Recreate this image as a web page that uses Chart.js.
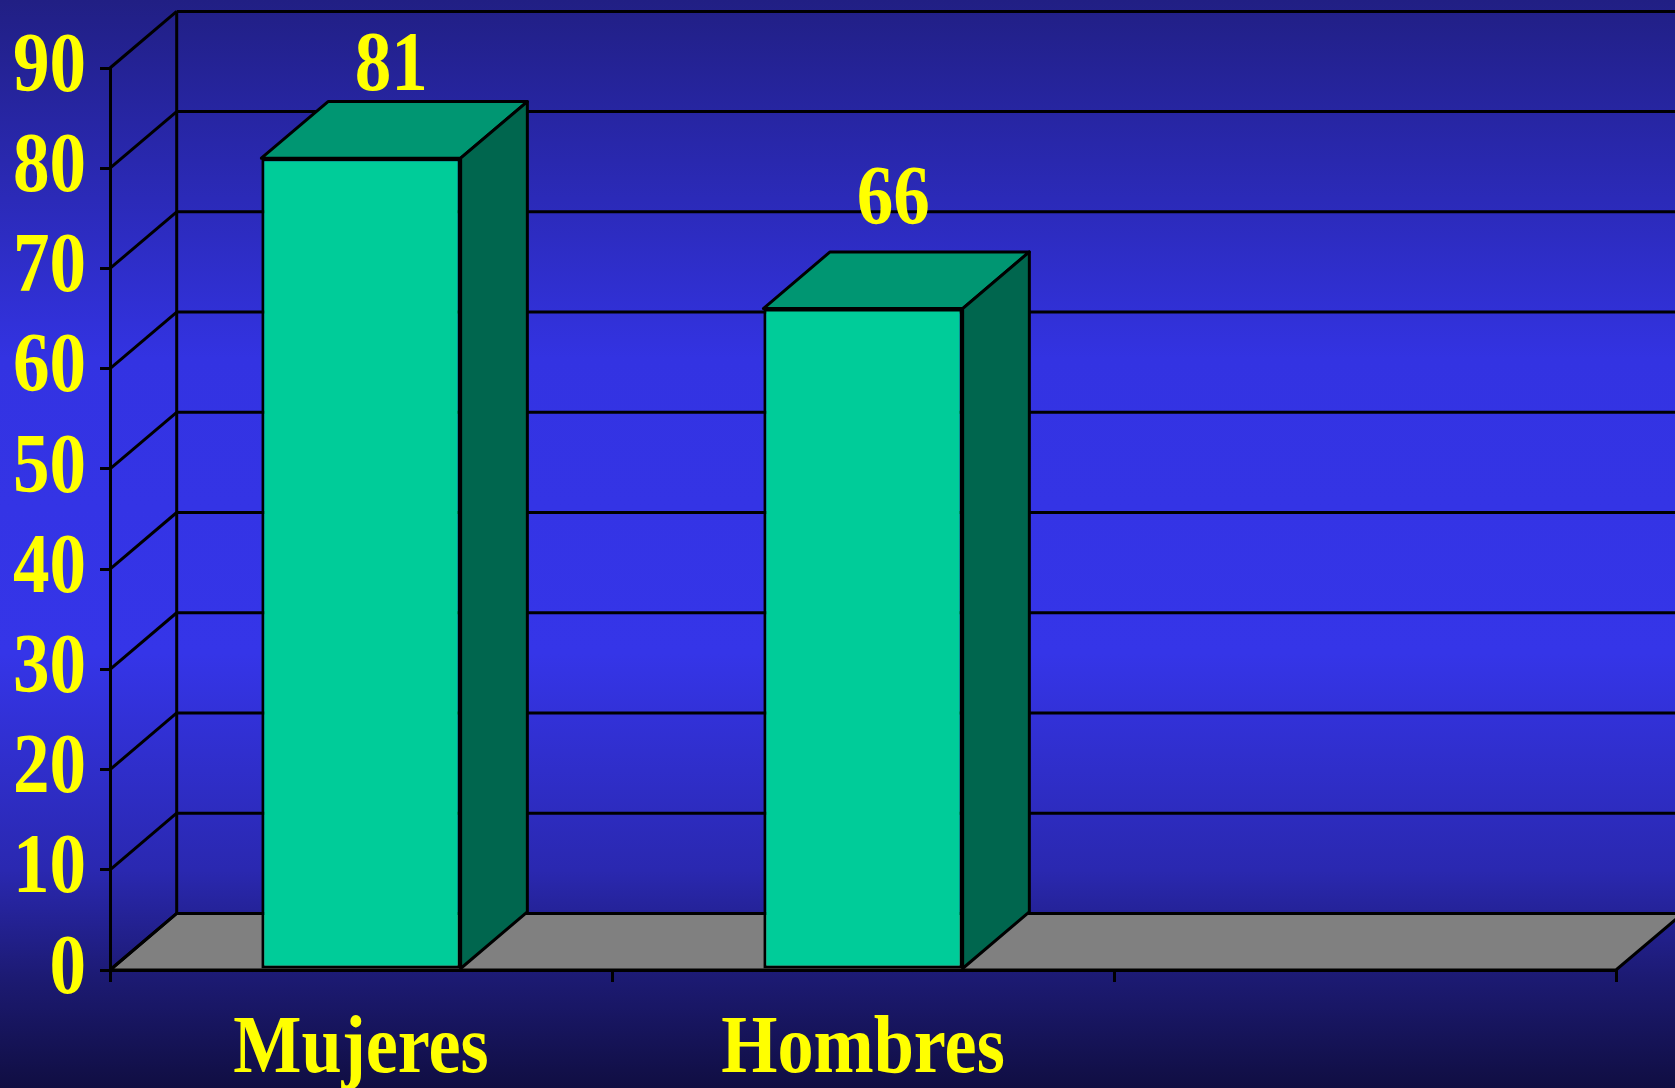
<!DOCTYPE html>
<html>
<head>
<meta charset="utf-8">
<title>Mujeres / Hombres</title>
<script src="https://cdn.jsdelivr.net/npm/chart.js@4.4.1/dist/chart.umd.min.js"></script>
<style>
  html, body { margin: 0; padding: 0; background: #1a1870; }
  canvas { display: block; }
</style>
</head>
<body>
<canvas id="myChart" width="1675" height="1088"></canvas>
<script>
// data
const categories = ['Mujeres', 'Hombres', ''];
const values = [81, 66, null];
const yTickLabels = ['0', '10', '20', '30', '40', '50', '60', '70', '80', '90'];

// 3d look
const DEPTH_X = 66.7;
const DEPTH_Y = 56.6;
const SQUEEZE = 0.87;   // text in the slide is a bit narrow
const FONT = '"Liberation Serif", "Times New Roman", serif';
const YELLOW = '#ffff00';

function squeezedText(ctx, text, x, y, size, align, baseline) {
    ctx.save();
    ctx.translate(x, y);
    ctx.scale(SQUEEZE, 1);
    ctx.font = 'bold ' + size + 'px ' + FONT;
    ctx.fillStyle = YELLOW;
    ctx.textAlign = align;
    ctx.textBaseline = baseline;
    ctx.fillText(text, 0, 0);
    ctx.restore();
}

const backdrop = {
    id: 'backdrop',
    beforeDraw(chart) {
        const ctx = chart.ctx;
        const area = chart.chartArea;
        const yScale = chart.scales.y;

        const grad = ctx.createLinearGradient(0, 0, 0, chart.height);
        grad.addColorStop(0, '#211f84');
        grad.addColorStop(0.33, '#3333e2');
        grad.addColorStop(0.6, '#3535e8');
        grad.addColorStop(0.8, '#2a28b0');
        grad.addColorStop(0.9, '#1c1a72');
        grad.addColorStop(1, '#100e42');
        ctx.save();
        ctx.fillStyle = grad;
        ctx.fillRect(0, 0, chart.width, chart.height);

        ctx.strokeStyle = '#000';
        ctx.lineWidth = 3;
        ctx.lineCap = 'butt';

        const backLeft = area.left + DEPTH_X;
        const yZero = yScale.getPixelForValue(0);
        const yTop = yScale.getPixelForValue(90);

        // floor
        ctx.beginPath();
        ctx.moveTo(area.left, yZero);
        ctx.lineTo(area.right, yZero);
        ctx.lineTo(area.right + DEPTH_X, yZero - DEPTH_Y);
        ctx.lineTo(backLeft, yZero - DEPTH_Y);
        ctx.closePath();
        ctx.fillStyle = '#808080';
        ctx.fill();
        ctx.stroke();

        // back wall + side wall lines
        yTickLabels.forEach(t => {
            const y = yScale.getPixelForValue(Number(t));
            ctx.beginPath();
            ctx.moveTo(backLeft, y - DEPTH_Y);
            ctx.lineTo(chart.width, y - DEPTH_Y);
            ctx.stroke();
            ctx.beginPath();
            ctx.moveTo(area.left, y);
            ctx.lineTo(backLeft, y - DEPTH_Y);
            ctx.stroke();
        });
        ctx.beginPath();
        ctx.moveTo(backLeft, yTop - DEPTH_Y);
        ctx.lineTo(backLeft, yZero - DEPTH_Y);
        ctx.stroke();
        ctx.restore();
    }
};

const bars3d = {
    id: 'bars3d',
    afterDatasetsDraw(chart) {
        const ctx = chart.ctx;
        const meta = chart.getDatasetMeta(0);
        ctx.save();
        ctx.strokeStyle = '#000';
        ctx.lineWidth = 3;
        ctx.lineJoin = 'round';
        meta.data.forEach((bar, i) => {
            if (values[i] == null) return;
            const p = bar.getProps(['x', 'y', 'base', 'width'], true);
            const l = p.x - p.width / 2;
            const r = p.x + p.width / 2;

            ctx.beginPath();
            ctx.moveTo(l, p.y);
            ctx.lineTo(l + DEPTH_X, p.y - DEPTH_Y);
            ctx.lineTo(r + DEPTH_X, p.y - DEPTH_Y);
            ctx.lineTo(r, p.y);
            ctx.closePath();
            ctx.fillStyle = '#009672';
            ctx.fill();
            ctx.stroke();

            ctx.beginPath();
            ctx.moveTo(r, p.y);
            ctx.lineTo(r + DEPTH_X, p.y - DEPTH_Y);
            ctx.lineTo(r + DEPTH_X, p.base - DEPTH_Y);
            ctx.lineTo(r, p.base);
            ctx.closePath();
            ctx.fillStyle = '#00664e';
            ctx.fill();
            ctx.stroke();
        });
        ctx.restore();
    },
    afterDraw(chart) {
        const ctx = chart.ctx;
        const area = chart.chartArea;
        const yScale = chart.scales.y;
        const xScale = chart.scales.x;

        yTickLabels.forEach(t => {
            squeezedText(ctx, t, 86, yScale.getPixelForValue(Number(t)) + 1, 84, 'right', 'middle');
        });

        categories.forEach((c, i) => {
            if (!c) return;
            squeezedText(ctx, c, xScale.getPixelForValue(i), 1072, 83, 'center', 'alphabetic');
        });

        const meta = chart.getDatasetMeta(0);
        meta.data.forEach((bar, i) => {
            if (values[i] == null) return;
            const p = bar.getProps(['x', 'y'], true);
            const backTop = p.y - DEPTH_Y;
            let base = backTop - 28;
            if (base < area.top + 22) base = area.top + 22;
            squeezedText(ctx, String(values[i]), p.x + DEPTH_X / 2 - 3, base, 84, 'center', 'alphabetic');
        });
    }
};

const ctx = document.getElementById('myChart').getContext('2d');
new Chart(ctx, {
    type: 'bar',
    data: {
        labels: categories,
        datasets: [{
            data: values,
            backgroundColor: '#00cc99',
            borderColor: '#000',
            borderWidth: 3,
            borderSkipped: false,
            barPercentage: 0.397,
            categoryPercentage: 1
        }]
    },
    options: {
        responsive: false,
        animation: false,
        layout: { padding: { top: 68, right: 59, left: 0, bottom: 0 } },
        plugins: { legend: { display: false }, tooltip: { enabled: false } },
        scales: {
            x: {
                grid: { display: true, drawOnChartArea: false, offset: true, color: '#000', lineWidth: 3, tickLength: 12 },
                border: { display: true, color: '#000', width: 3 },
                ticks: { display: false },
                afterFit(s) { s.height = 118; }
            },
            y: {
                min: 0,
                max: 90,
                ticks: { display: false, stepSize: 10 },
                grid: { display: true, drawOnChartArea: false, color: '#000', lineWidth: 3, tickLength: 10 },
                border: { display: true, color: '#000', width: 3 },
                afterFit(s) { s.width = 110; }
            }
        }
    },
    plugins: [backdrop, bars3d]
});
</script>
</body>
</html>
